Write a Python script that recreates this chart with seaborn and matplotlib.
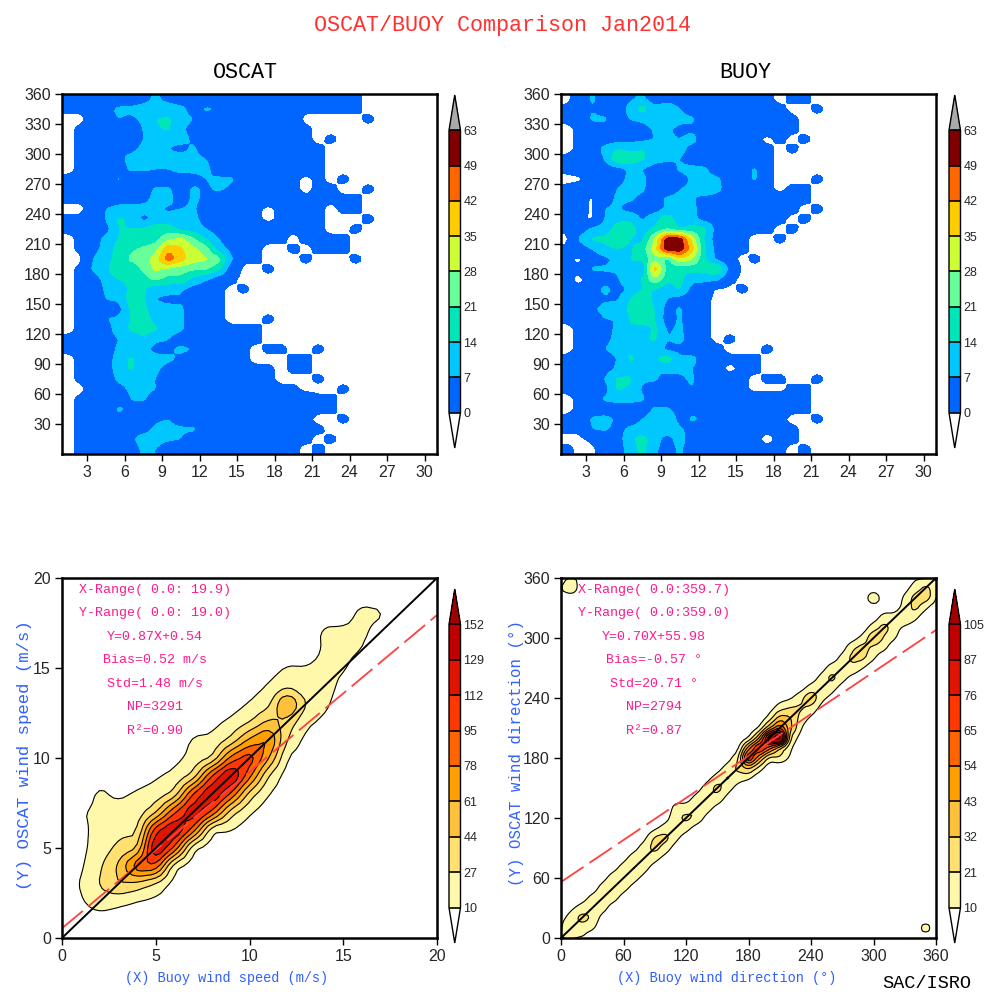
import numpy as np
import matplotlib
matplotlib.use("Agg")
import matplotlib.pyplot as plt
from matplotlib.colors import ListedColormap, BoundaryNorm
import seaborn as sns

# Top panels: counts on a 1 m/s x 10 deg grid, rows from 355 deg down to 5 deg
oscat_rows = [
    [1,1,1,2,3,4,5,8,5,3,3,2,2,2,1,1,1,1,1,1,1,1,1,1],
    [1,1,2,5,8,8,9,10,10,9,4,8,7,2,1,1,1,1,1,1,1,1,1,1],
    [0,0,2,4,7,6,8,14,15,9,7,3,2,2,1,1,1,1,2,0,0,0,0,0,1],
    [0,1,2,3,3,3,7,13,15,8,5,3,2,2,2,2,2,2,1,1],
    [0,1,2,3,3,3,7,9,9,9,6,3,2,2,2,2,2,2,1,1,0,1],
    [0,1,2,3,7,6,8,9,7,5,8,3,2,2,2,2,2,2,1,1,1],
    [0,1,2,3,6,8,9,10,10,10,9,7,3,2,2,2,2,2,2,2,1],
    [0,1,2,3,4,8,8,7,7,9,9,9,3,3,2,2,2,2,2,2,1],
    [1,1,2,3,8,3,3,3,3,4,4,7,8,8,3,2,2,2,1,0,1,0,1],
    [1,1,2,3,3,3,3,8,8,3,8,6,8,6,3,2,2,2,1,0,1,1,0,0,1],
    [1,1,2,3,4,5,5,9,9,4,8,6,3,2,2,2,2,2,2,1,1,1,1,1],
    [0,0,2,7,9,9,9,8,6,7,8,3,3,2,2,1,0,1,1,1,1,0,1,1],
    [1,1,3,7,15,13,5,9,10,10,9,4,3,2,2,1,0,1,1,1,1,0,0,0,1],
    [1,1,3,4,14,14,15,18,17,12,10,7,3,2,2,2,2,1,1,1,1,0,0,1],
    [0,1,3,9,14,18,17,18,26,30,22,14,7,3,2,1,1,1,0,1,1,1,1],
    [0,1,5,9,17,20,22,25,41,36,30,24,10,5,2,1,0,0,1,0,1,1,1],
    [0,0,7,11,17,22,24,32,46,38,31,29,24,8,1,1,0,0,0,1,0,0,0,1],
    [0,1,8,11,22,17,22,30,26,24,22,22,16,3,0,0,1],
    [0,1,4,9,14,15,18,23,18,19,12,8,3,1],
    [0,1,2,8,11,15,15,9,10,8,4,2,1,0,1],
    [0,1,2,7,8,17,15,7,5,6,3,2,1],
    [0,1,2,4,4,15,16,9,9,8,3,2,1],
    [0,1,2,7,8,14,17,12,9,8,3,2,1,0,0,0,1],
    [0,1,2,4,10,15,17,15,9,8,3,2,2,1,1,1],
    [1,1,2,3,7,9,13,8,7,4,3,3,2,2,1,1],
    [1,1,2,3,8,9,9,5,6,8,7,3,2,2,1,0,1,1,0,0,1],
    [0,1,2,3,10,15,11,9,8,6,3,2,2,2,1,0,0,0,1,1],
    [0,1,2,3,10,15,9,8,5,3,2,2,2,1,1,1,1,0,1,1],
    [0,1,2,3,8,9,8,7,3,2,2,2,2,2,2,2,1,0,0,0,1],
    [0,0,2,3,5,8,9,7,3,2,2,2,2,2,2,2,2,1,1,0,0,0,1],
    [0,1,2,3,3,7,8,3,3,2,2,2,2,2,2,2,2,2,2,2,1,1],
    [0,1,2,3,8,6,3,3,3,2,2,2,2,2,2,2,2,2,2,2,1,1],
    [0,1,2,3,5,3,3,6,7,3,3,2,2,2,2,2,2,2,1,1,0,0,1],
    [0,1,2,3,3,5,5,8,9,8,8,4,2,2,2,2,2,2,2,1,1],
    [0,1,2,4,4,6,9,9,8,7,3,2,2,2,2,2,2,2,1,1,0,1],
    [0,1,2,7,5,4,8,7,3,3,2,2,2,2,2,2,2,1,1,0,1],
]
buoy_rows = [
    [0,2,8,3,3,6,8,3,3,3,2,2,2,2,2,2,1,0,1,1],
    [1,2,7,3,3,9,17,9,13,7,3,2,2,2,2,2,2,1,0,0,1],
    [1,2,8,8,3,7,9,13,14,9,8,3,3,2,2,2,2,2,1],
    [0,1,3,4,3,3,3,8,8,5,6,3,2,2,2,2,2,2,1],
    [0,1,3,3,3,4,5,7,8,7,9,3,2,2,2,1,0,1,0,1],
    [0,1,3,9,14,12,14,13,9,9,5,3,2,2,2,2,1,0,1],
    [1,2,3,7,20,19,15,10,8,7,3,2,7,7,2,2,1],
    [1,2,3,3,4,8,7,3,3,8,9,8,3,3,3,8,1],
    [0,0,3,3,5,8,8,5,4,4,8,9,8,3,3,8,1,0,0,0,1],
    [1,2,3,4,7,9,8,3,4,7,8,14,9,3,8,3,1,0,1,1],
    [1,2,0,4,8,8,5,4,8,8,8,3,3,2,2,2,2,2,1,1],
    [1,2,0,7,8,4,4,4,8,9,9,3,2,2,2,2,2,2,1,0,1],
    [1,1,0,7,12,13,6,11,19,9,9,4,3,2,2,2,2,1,0,1],
    [1,3,8,9,18,18,10,15,20,14,17,16,3,2,1,1,1,0,1],
    [0,8,15,16,19,14,12,28,54,54,32,12,3,2,1,0,0,1],
    [1,3,7,12,14,13,17,32,54,54,38,14,4,2,1],
    [1,0,3,5,9,14,15,26,18,34,28,15,5,1,0,1],
    [1,1,8,8,8,14,7,40,18,15,16,18,22,4],
    [1,0,2,3,6,13,14,27,17,16,9,9,8,1],
    [1,1,2,9,4,8,14,14,9,15,4,2,0,0,1],
    [1,2,3,6,6,14,20,12,7,4,2,1],
    [1,2,6,9,10,15,18,14,4,8,2,1],
    [1,2,3,7,7,14,22,14,3,8,2,1],
    [0,1,2,3,9,13,8,16,6,8,3,1],
    [0,1,2,5,9,9,13,15,7,9,3,1,0,1],
    [0,1,3,7,9,14,6,12,5,5,3,2,1,0,0,0,1],
    [1,2,3,4,7,15,13,13,18,8,9,3,2,1,1,1],
    [1,1,3,4,8,11,7,7,9,8,7,3,1,0,1,1],
    [1,2,3,7,15,15,8,8,4,6,8,2,2,2,1,0,1,1,0,0,1],
    [1,2,3,4,15,13,6,3,3,3,7,2,2,2,1,0,0,0,1,1],
    [0,1,3,8,9,9,8,3,2,2,2,2,2,2,2,2,2,2,1,1],
    [0,1,2,3,3,3,3,8,8,3,5,3,2,2,2,2,2,2,1,1],
    [1,2,8,9,6,4,7,10,14,4,8,6,2,2,2,1,1,1,0,0,1],
    [1,1,7,8,5,8,9,8,12,8,4,2,2,2,1,1,1,1,1],
    [0,0,1,2,3,12,17,10,4,10,3,2,2,1,1,1,0,1,1],
    [1,0,0,2,3,10,16,8,4,8,3,2,2,1,1,1,1,1,0,1],
]

# Wind speed scatter density: for x = 1..17 m/s, first y and the values upward
speed_x = list(range(1, 18))
speed_first_y = [1, 1, 1, 1, 2, 3, 4, 5, 6, 7, 8, 9, 11, 12, 14, 15, 17]
speed_vals = [
    [2,8,11,7,6,7,9,1],
    [3,18,28,24,17,14,13,13,5],
    [1,14,45,46,31,22,16,7],
    [2,8,38,95,40,22,17,12,3],
    [5,22,95,140,110,38,16,8],
    [3,11,95,135,95,30,14,5],
    [2,9,90,130,100,30,15,12,2],
    [2,9,95,135,100,25,13,5],
    [10,33,95,140,85,30,13,2],
    [12,35,85,110,65,25,11,3],
    [10,25,65,85,48,20,11,3],
    [2,9,26,38,72,22,11,2],
    [5,14,26,15,11,2],
    [6,14,18,14,12,13,2],
    [5,12,14,13,4],
    [2,10,13,14,5],
    [4,12,3],
]

# Wind direction scatter density: for x = 0..360 deg every 10 deg
dir_first_y = [0,0,0,10,20,30,40,50,60,70,80,90,100,110,120,130,140,150,160,170,180,180,180,200,220,230,240,250,260,270,280,290,300,310,320,330,340]
dir_vals = [
    [14,13,6],[17,16,16,8],[10,16,26,15,5],[13,20,18,14,4],[5,15,18,15,6],
    [4,15,20,16,6],[5,14,18,15,6],[6,14,24,16,6],[6,14,18,16,7],[5,14,26,24,7],
    [6,16,26,15,5],[5,13,16,18,15,5],[5,14,25,15,4],[5,19,22,14,5],[6,15,19,15,6],
    [6,18,26,15,5],[6,15,24,15,5],[5,15,24,18,6],[12,34,85,50,9],[17,45,85,40,10],
    [16,60,105,40,14,4],[20,30,130,65,38,16,5],[8,12,20,36,34,22,8],[5,11,17,23,18,5],
    [8,18,32,15,4],[6,13,17,14,5],[7,14,26,16,4],[5,14,15,14,5],[6,18,25,20,5],
    [10,24,26,14,4],[12,18,32,17,4],[14,20,26,16,4],[12,16,15,5],[6,24,14,13,5],
    [13,25,26,16,8],[12,27,24,13],[14,17,14],
]
# Separate small patches away from the main ridge
dir_spot_x = [10, 10, 0, 300, 350]
dir_spot_y = [350, 360, 350, 340, 10]
dir_spot_v = [24, 18, 12, 26, 20]

ws_fit_x = [0, 20]
ws_fit_y = [0.54, 17.94]
wd_fit_x = [0, 360]
wd_fit_y = [55.98, 307.98]

top_levels = [0.52, 7, 14, 21, 28, 35, 42, 49, 63]
top_labels = [0, 7, 14, 21, 28, 35, 42, 49, 63]
ws_levels = [10, 27, 44, 61, 78, 95, 112, 129, 152]
wd_levels = [10, 21, 32, 43, 54, 65, 76, 87, 105]
top_colors = ['#0066ff', '#00c8ff', '#00e6b8', '#66ff99', '#ccff33', '#ffcc00', '#ff6600', '#800000']
low_colors = ['#fff8aa', '#ffe070', '#ffc03c', '#ffa000', '#ff6400', '#ff3700', '#e01400', '#c00000']

ws_text = ['X-Range( 0.0: 19.9)', 'Y-Range( 0.0: 19.0)', 'Y=0.87X+0.54', 'Bias=0.52 m/s', 'Std=1.48 m/s', 'NP=3291', 'R²=0.90']
wd_text = ['X-Range( 0.0:359.7)', 'Y-Range( 0.0:359.0)', 'Y=0.70X+55.98', 'Bias=-0.57 °', 'Std=20.71 °', 'NP=2794', 'R²=0.87']

sns.set_theme(style='ticks')
MONO = ['Liberation Mono', 'DejaVu Sans Mono']
plt.rcParams['font.family'] = ['Liberation Sans', 'DejaVu Sans']
plt.rcParams['axes.linewidth'] = 1.8
plt.rcParams['axes.edgecolor'] = 'black'


def rect(left, top, right, bottom):
    # pixel box of the 1000x1000 image to figure fractions
    return [left / 1000, 1 - bottom / 1000, (right - left) / 1000, (bottom - top) / 1000]


def top_grid(rows):
    z = np.zeros((36, 30))
    for i, row in enumerate(rows[::-1]):
        z[i, :len(row)] = row
    z = np.pad(z, 1, mode='edge')
    # single isolated counts come out too small after contouring, fatten them
    out = z.copy()
    for j in range(1, z.shape[0] - 1):
        for i in range(1, z.shape[1] - 1):
            if z[j, i] == 1 and z[j - 1:j + 2, i - 1:i + 2].sum() == 1:
                out[j, i] = 1.3
    return out


def band_grid(first, vals, size, x_index):
    z = np.zeros((size, size))
    for i, (f, v) in enumerate(zip(first, vals)):
        z[f:f + len(v), x_index[i]] = v
    return z


def refine(z, step=4, width=3):
    # same smoothing idea as the contour interpolation of the original plot
    ny, nx = z.shape
    fx = np.linspace(0, nx - 1, (nx - 1) * step + 1)
    fy = np.linspace(0, ny - 1, (ny - 1) * step + 1)
    a = np.array([np.interp(fx, np.arange(nx), r) for r in z])
    a = np.array([np.interp(fy, np.arange(ny), c) for c in a.T]).T
    k = np.ones(width) / width
    a = np.apply_along_axis(lambda r: np.convolve(r, k, mode='same'), 0, a)
    a = np.apply_along_axis(lambda r: np.convolve(r, k, mode='same'), 1, a)
    return fx, fy, a


def add_bar(fig, cf, box, labels, size=9):
    cax = fig.add_axes(rect(*box))
    cb = fig.colorbar(cf, cax=cax, spacing='uniform', extendfrac=0.125, drawedges=True)
    cb.set_ticks(cf.levels)
    cb.set_ticklabels([str(v) for v in labels])
    cb.outline.set_linewidth(1)
    cb.dividers.set_linewidth(1.2)
    cax.tick_params(length=0, pad=2, labelsize=size)
    return cb


def style_axes(ax, xt, yt):
    ax.set_xticks(xt)
    ax.set_yticks(yt)
    ax.tick_params(direction='out', length=5, width=1, labelsize=11.5, pad=3, color='black')
    ax.set_xlabel('')
    ax.set_ylabel('')


fig = plt.figure(figsize=(10, 10), dpi=100, facecolor='white')

# top row
top_cmap = ListedColormap(top_colors)
top_cmap.set_under('white')
top_cmap.set_over('#aaaaaa')
panels = [(oscat_rows, 62, 437, 449), (buoy_rows, 561, 936, 949)]
for rows, left, right, bar_left in panels:
    ax = fig.add_axes(rect(left, 94, right, 454))
    fx, fy, fine = refine(top_grid(rows), step=6)
    cf = ax.contourf(0.5 + fx, -5 + 10 * fy, fine, levels=top_levels, cmap=top_cmap,
                     norm=BoundaryNorm(top_levels, ncolors=8), extend='both', antialiased=False)
    ax.set_xlim(1, 31)
    ax.set_ylim(0, 360)
    style_axes(ax, range(3, 31, 3), range(30, 361, 30))
    add_bar(fig, cf, (bar_left, 95, bar_left + 11.5, 448), top_labels)

# bottom row
low_cmap = ListedColormap(low_colors)
low_cmap.set_under('white')
low_cmap.set_over('#a00000')

ws_grid = band_grid(speed_first_y, speed_vals, 21, speed_x)
fx, fy, ws_fine = refine(ws_grid)
ax3 = fig.add_axes(rect(62, 578, 437, 938))
cf3 = ax3.contourf(fx, fy, ws_fine, levels=ws_levels, cmap=low_cmap, norm=BoundaryNorm(ws_levels, ncolors=8), extend='both')
ax3.contour(fx, fy, ws_fine, levels=ws_levels, colors='black', linewidths=0.8)
sns.lineplot(x=ws_fit_x, y=ws_fit_y, ax=ax3, color='#ff4040', linewidth=1.3, linestyle=(0, (15, 4)), errorbar=None)
sns.lineplot(x=[0, 20], y=[0, 20], ax=ax3, color='black', linewidth=1.4, errorbar=None)
ax3.set_xlim(0, 20)
ax3.set_ylim(0, 20)
style_axes(ax3, range(0, 21, 5), range(0, 21, 5))
add_bar(fig, cf3, (449, 589, 460.5, 943), ws_levels)

wd_grid = band_grid([f // 10 for f in dir_first_y], dir_vals, 37, list(range(37)))
for sx, sy, sv in zip(dir_spot_x, dir_spot_y, dir_spot_v):
    wd_grid[sy // 10, sx // 10] = sv
fx, fy, wd_fine = refine(wd_grid)
ax4 = fig.add_axes(rect(561, 578, 936, 938))
cf4 = ax4.contourf(fx * 10, fy * 10, wd_fine, levels=wd_levels, cmap=low_cmap, norm=BoundaryNorm(wd_levels, ncolors=8), extend='both')
ax4.contour(fx * 10, fy * 10, wd_fine, levels=wd_levels, colors='black', linewidths=0.8)
sns.lineplot(x=wd_fit_x, y=wd_fit_y, ax=ax4, color='#ff4040', linewidth=1.3, linestyle=(0, (15, 4)), errorbar=None)
sns.lineplot(x=[0, 360], y=[0, 360], ax=ax4, color='black', linewidth=1.4, errorbar=None)
ax4.set_xlim(0, 360)
ax4.set_ylim(0, 360)
style_axes(ax4, range(0, 361, 60), range(0, 361, 60))
add_bar(fig, cf4, (949, 589, 960.5, 943), wd_levels)

# texts
def put(x, y, s, size, color='black', rotation=0):
    fig.text(x / 1000, 1 - y / 1000, s, fontsize=size, color=color, family=MONO,
             ha='center', va='center', rotation=rotation)


put(502, 26, 'OSCAT/BUOY Comparison Jan2014', 15.7, '#ff3030')
put(245, 72, 'OSCAT', 15.7)
put(745, 72, 'BUOY', 15.7)
put(227, 978, '(X) Buoy wind speed (m/s)', 9.8, '#3060ff')
put(727, 978, '(X) Buoy wind direction (°)', 9.8, '#3060ff')
put(25, 755, '(Y) OSCAT wind speed (m/s)', 12.5, '#3060ff', 90)
put(516, 753, '(Y) OSCAT wind direction (°)', 11.3, '#3060ff', 90)
put(927, 984, 'SAC/ISRO', 13.4)
line_y = [590, 613, 637, 660, 684, 707, 731]
for ly, a, b in zip(line_y, ws_text, wd_text):
    put(155, ly, a, 9.6, '#ff1a8c')
    put(654, ly, b, 9.6, '#ff1a8c')

fig.savefig('out.png', dpi=100)
